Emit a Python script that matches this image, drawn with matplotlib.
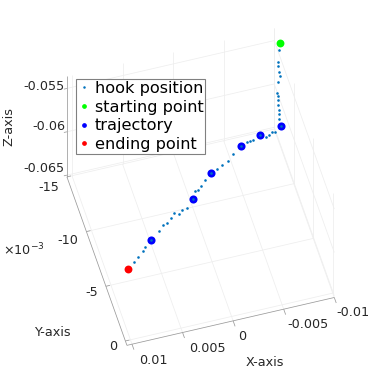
import matplotlib
matplotlib.use('Agg')
import matplotlib.pyplot as plt
from matplotlib.lines import Line2D

W, H = 373, 388

# hook position samples (metres), lift then travel
hook_x = [-9.91, -9.74, -9.68, -9.64, -9.78, -9.84, -9.64, -9.58, -9.64, -9.64, -9.64, -9.81, -9.81, -9.81,
          -9.94, -9.25, -8.93, -8.53, -8.24, -7.70, -6.99, -6.65, -6.35, -5.64, -4.65, -3.99, -3.26, -2.65,
          -2.01, -1.28, -0.66, -0.28, 0.06, 0.47, 1.32, 1.80, 2.28, 2.66, 3.07, 3.64, 4.08, 4.64, 5.59,
          6.39, 6.68, 7.34, 7.90, 8.67]
hook_y = [-13.18] * 15 + [-12.77, -12.79, -12.62, -12.47, -12.81, -12.53, -12.51, -12.43, -12.21, -11.71,
          -11.22, -11.01, -10.74, -10.54, -10.07, -9.62, -9.33, -9.31, -8.70, -8.03, -7.98, -7.68, -7.92,
          -7.54, -7.20, -7.08, -6.67, -6.07, -5.56, -5.31, -4.89, -4.48, -4.03]
hook_z = [-52.99, -53.68, -55.03, -55.52, -56.29, -56.75, -57.40, -58.66, -58.94, -59.51, -60.01, -60.70,
          -61.16, -61.65] + [-62.5] * 34
hook_x = [v * 1e-3 for v in hook_x]
hook_y = [v * 1e-3 for v in hook_y]
hook_z = [v * 1e-3 for v in hook_z]

# waypoints are samples of the hook path
traj_idx = [14, 19, 23, 28, 33, 42]

x_ticks = [-0.01, -0.005, 0, 0.005, 0.01]
y_ticks = [-0.015, -0.01, -0.005, 0]
z_ticks = [-0.065, -0.06, -0.055]
x_lim = (-0.01, 0.0105)
y_lim = (-0.015, 0.0004)
z_lim = (-0.0652, -0.0536)

x_tick_labels = ['-0.01', '-0.005', '0', '0.005', '0.01']
y_tick_labels = ['-15', '-10', '-5', '0']
z_tick_labels = ['-0.065', '-0.06', '-0.055']

GRID = '#eeeeee'
AXIS = '#9a9a9a'
TEXT = '#262626'

fig = plt.figure(figsize=(W / 100, H / 100), dpi=100)
side = 340
cx, cy = 196, 196.5
ax = fig.add_axes([(cx - side / 2) / W, (cy - side / 2) / H, side / W, side / H],
                  projection='3d', proj_type='ortho', computed_zorder=False)
ax.set_box_aspect((210, 212, 165), zoom=1.0)
ax.view_init(elev=53.6, azim=74)
ax.set_xlim(*x_lim)
ax.set_ylim(*y_lim)
ax.set_zlim(*z_lim)
ax.set_axis_off()
ax.patch.set_alpha(0)


def line3(xs, ys, zs, color=GRID, lw=0.55):
    ax.plot(xs, ys, zs, color=color, lw=lw, zorder=1, solid_capstyle='butt')


# floor and wall grids
for xv in x_ticks:
    line3([xv, xv], y_lim, [z_lim[0]] * 2)
    line3([xv, xv], [y_lim[0]] * 2, z_lim)
for yv in y_ticks:
    line3(x_lim, [yv, yv], [z_lim[0]] * 2)
    line3([x_lim[0]] * 2, [yv, yv], z_lim)
for zv in z_ticks:
    line3(x_lim, [y_lim[0]] * 2, [zv, zv])
    line3([x_lim[0]] * 2, y_lim, [zv, zv])

# axis lines and ticks
line3(x_lim, [y_lim[1]] * 2, [z_lim[0]] * 2, AXIS)
line3([x_lim[1]] * 2, y_lim, [z_lim[0]] * 2, AXIS)
line3([x_lim[1]] * 2, [y_lim[0]] * 2, z_lim, AXIS)
for xv in x_ticks:
    line3([xv, xv], [y_lim[1], y_lim[1] + 0.0005], [z_lim[0]] * 2, AXIS)
for yv in y_ticks:
    line3([x_lim[1], x_lim[1] - 0.0004], [yv, yv], [z_lim[0]] * 2, AXIS)
for zv in z_ticks:
    line3([x_lim[1], x_lim[1] + 0.0003], [y_lim[0]] * 2, [zv, zv], AXIS)

# markers
ax.scatter([hook_x[i] for i in traj_idx], [hook_y[i] for i in traj_idx], [hook_z[i] for i in traj_idx],
           s=34, c='#0000ff', depthshade=False, linewidths=0, zorder=3)
ax.scatter(hook_x[0], hook_y[0], hook_z[0], s=32, c='#00ff00', depthshade=False, linewidths=0, zorder=3)
ax.scatter(hook_x[-1], hook_y[-1], hook_z[-1], s=32, c='#ff0000', depthshade=False, linewidths=0, zorder=3)
ax.scatter(hook_x[1:-1], hook_y[1:-1], hook_z[1:-1], s=3.5, c='#0072bd', depthshade=False, linewidths=0, zorder=4)


def put(px, py, s, **kw):
    fig.text(px / W, 1 - py / H, s, color=TEXT, fontsize=9.2, va='center', **kw)


# tick label positions in the picture
for px, py, s in zip([353, 308, 242, 207, 153], [313, 325, 337, 348, 360], x_tick_labels):
    put(px, py, s, ha='center')
for px, py, s in zip([49, 68, 92, 113], [187, 240, 293, 347], y_tick_labels):
    put(px, py, s, ha='center')
for py, s in zip([168, 127, 86], z_tick_labels):
    put(65, py, s, ha='right')
put(24, 250, r'$\times\mathregular{10^{-3}}$', ha='center')
put(265, 362, 'X-axis', ha='center')
put(52, 332, 'Y-axis', ha='center')
put(8.5, 127, 'Z-axis', ha='center', rotation=90)

handles = [
    Line2D([], [], ls='', marker='o', ms=0.8, color='#0072bd'),
    Line2D([], [], ls='', marker='o', ms=2.4, color='#00ff00'),
    Line2D([], [], ls='', marker='o', ms=2.4, color='#0000ff'),
    Line2D([], [], ls='', marker='o', ms=2.4, color='#ff0000'),
]
labels = ['hook position', 'starting point', 'trajectory', 'ending point']
leg = fig.legend(handles, labels, loc='upper left', bbox_to_anchor=(76 / W, 1 - 79 / H), fontsize=11.6,
                 fancybox=False, framealpha=1, edgecolor='#808080', borderpad=0.12, labelspacing=0.23,
                 handlelength=0.75, handletextpad=0.28, borderaxespad=0)
leg.get_frame().set_linewidth(0.8)

fig.savefig('out.png', dpi=100)
